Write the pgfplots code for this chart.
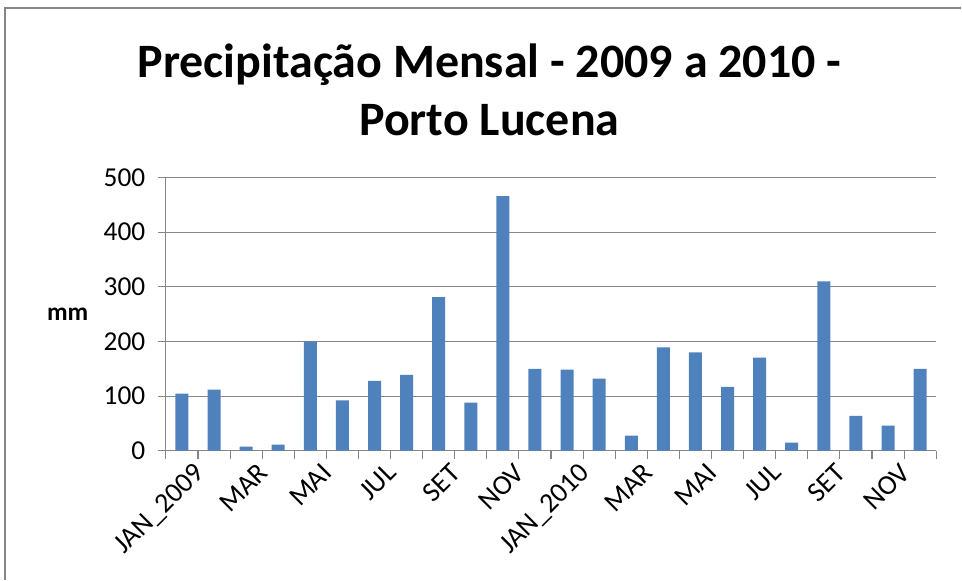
\documentclass[border=0pt]{standalone}
\usepackage{fontspec}
\setmainfont{Carlito}
\usepackage{pgfplots}
\pgfplotsset{compat=1.18}
\definecolor{barblue}{RGB}{79,129,189}
\definecolor{axgray}{RGB}{134,134,134}
\begin{document}
\begin{tikzpicture}
\begin{axis}[
    scale only axis,
    width=578pt, height=205pt,
    xmin=0.5, xmax=24.5,
    ymin=0, ymax=500,
    ytick={0,100,...,500},
    xtick={1,3,...,23},
    xticklabels={JAN\_2009,MAR,MAI,JUL,SET,NOV,JAN\_2010,MAR,MAI,JUL,SET,NOV},
    minor xtick={0.5,1.5,...,24.5},
    major x tick style={draw=none},
    minor tick length=6pt,
    major tick length=6pt,
    tick align=outside,
    tick style={axgray, line width=0.8pt},
    xtick pos=bottom, ytick pos=left,
    axis x line*=bottom, axis y line*=left,
    axis line style={axgray, line width=0.8pt, -},
    ymajorgrids,
    grid style={axgray, line width=0.8pt},
    /pgf/number format/assume math mode=true,
    yticklabel style={font=\fontsize{20.5}{20.5}\selectfont, xshift=-6pt},
    xticklabel style={font=\fontsize{21}{21}\selectfont, rotate=45, anchor=north east, inner sep=1pt, xshift=5pt, yshift=-6pt},
    ylabel={\textbf{mm}},
    ylabel style={rotate=-90, font=\fontsize{19}{19}\selectfont, at={(rel axis cs:0,0.5)}, anchor=east, inner sep=0pt, xshift=-58pt},
    title={Precipitação Mensal - 2009 a 2010 -\\Porto Lucena},
    title style={font=\bfseries\fontsize{36}{43.5}\selectfont, align=center, at={(rel axis cs:0.42,1)}, anchor=south, yshift=22pt},
]
\addplot[ybar, bar width=9.75pt, fill=barblue, draw=none] coordinates {
    (1,104.5) (2,112) (3,7.5) (4,11) (5,200) (6,92)
    (7,128) (8,139) (9,281) (10,88) (11,466) (12,150)
    (13,148.5) (14,132) (15,27.5) (16,189) (17,180) (18,117)
    (19,170.5) (20,15) (21,310) (22,64) (23,46) (24,150)
};
\end{axis}
\draw[axgray, line width=0.8pt] (-120.75pt,-96.75pt) -- (-120.75pt,332.25pt) -- (597pt,332.25pt);
\useasboundingbox (-124.5pt,-96.75pt) rectangle (597pt,338.25pt);
\end{tikzpicture}
\end{document}
